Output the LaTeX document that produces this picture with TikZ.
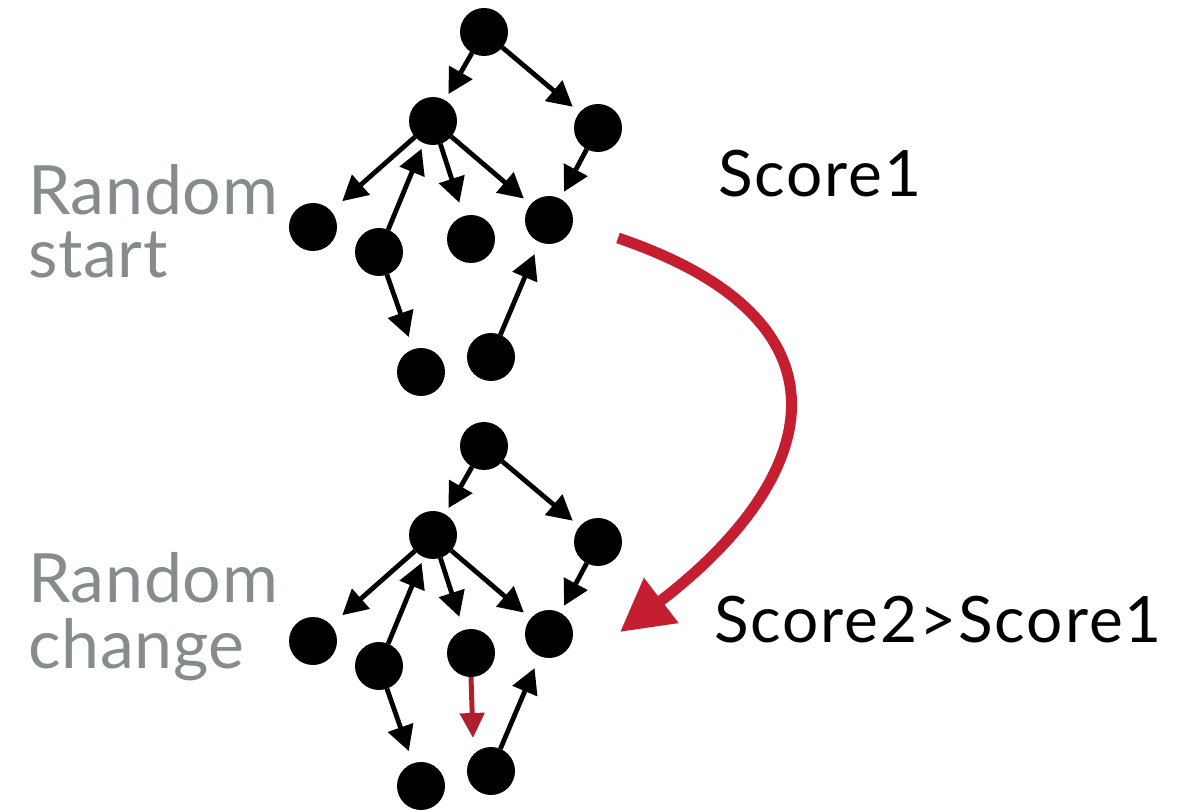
\documentclass[tikz,border=0pt]{standalone}
\usepackage{fontspec}
\setmainfont{Lato}
\newfontfamily\scorefont[LetterSpace=3]{Lato}
\newfontfamily\sidefont[LetterSpace=1]{Lato}
\usetikzlibrary{arrows.meta}
\definecolor{lblgray}{HTML}{868B8B}
\definecolor{bigred}{HTML}{C41E30}
\definecolor{smallred}{HTML}{B01F2E}
\tikzset{
  dot/.style={circle,fill=black,minimum size=48pt,inner sep=0pt,outer sep=0pt},
  edge/.style={line width=4.8pt,-{Triangle[length=25pt,width=26pt]}},
  sidelabel/.style={text=lblgray,font=\sidefont\fontsize{68}{68}\selectfont,anchor=base west,inner sep=0pt},
  scorelabel/.style={text=black,font=\scorefont\fontsize{64}{64}\selectfont,anchor=base west,inner sep=0pt},
}
\newcommand\mytree[2]{%
  \node[dot] (#1a) at (484,{32+#2}) {};
  \node[dot] (#1b) at (433,{121+#2}) {};
  \node[dot] (#1c) at (598,{128+#2}) {};
  \node[dot] (#1d) at (313,{227+#2}) {};
  \node[dot] (#1e) at (379,{252+#2}) {};
  \node[dot] (#1f) at (471,{239+#2}) {};
  \node[dot] (#1g) at (549,{220+#2}) {};
  \node[dot] (#1h) at (421,{372+#2}) {};
  \node[dot] (#1i) at (491,{357+#2}) {};
  \draw[edge,shorten >=7pt] (#1a) -- (#1b);
  \draw[edge,shorten >=9pt] (#1a) -- (#1c);
  \draw[edge,shorten >=15pt] (#1b) -- (#1d);
  \draw[edge,shorten >=6pt] (#1e) -- (#1b);
  \draw[edge,shorten >=14pt] (#1b) -- (#1f);
  \draw[edge,shorten >=9pt] (#1b) -- (#1g);
  \draw[edge,shorten >=8pt] (#1c) -- (#1g);
  \draw[edge,shorten >=13pt] (#1e) -- (#1h);
  \draw[edge,shorten >=13pt] (#1i) -- (#1g);
}
\begin{document}
\begin{tikzpicture}[x=1pt,y=-1pt]
  \useasboundingbox (0,0) rectangle (1187,810);
  \mytree{t}{0}
  \mytree{u}{414}
  % red change arrow
  \coordinate (redend) at (473,738);
  \draw[smallred,line width=5pt,-{Triangle[length=25pt,width=24pt]}] (uf.south) -- (redend);
  % labels
  \node[sidelabel] (rs1) at (28,215) {Random};
  \node[sidelabel] (rs2) at (28,278) {start};
  \node[sidelabel] (rc1) at (28,602) {Random};
  \node[sidelabel] (rc2) at (28,668) {change};
  \node[scorelabel] (s1) at (718,197) {Score1};
  \node[scorelabel] (s2) at (714,642) {Score2>Score1};
  % big curved arrow
  \coordinate (cs) at (618,238);
  \coordinate (ce) at (620,632);
  \draw[bigred,line width=11pt,-{Triangle[length=52pt,width=54pt]}] (cs) .. controls (860,320) and (825,475) .. (ce);
\end{tikzpicture}
\end{document}
